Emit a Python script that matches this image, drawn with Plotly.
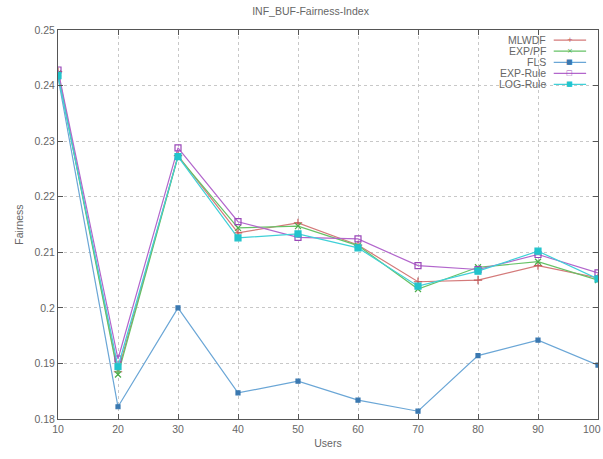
import plotly.graph_objects as go

users = [10, 20, 30, 40, 50, 60, 70, 80, 90, 100]
mlwdf = [0.2425, 0.1885, 0.2274, 0.2135, 0.2153, 0.2113, 0.2047, 0.2050, 0.2076, 0.2054]
exppf = [0.2422, 0.1880, 0.2272, 0.2144, 0.2147, 0.2112, 0.2034, 0.2073, 0.2083, 0.2050]
fls = [0.2415, 0.1822, 0.2000, 0.1847, 0.1868, 0.1834, 0.1814, 0.1914, 0.1942, 0.1897]
exprule = [0.2428, 0.1908, 0.2288, 0.2155, 0.2127, 0.2124, 0.2076, 0.2069, 0.2096, 0.2063]
logrule = [0.2418, 0.1894, 0.2272, 0.2126, 0.2133, 0.2108, 0.2039, 0.2066, 0.2102, 0.2052]

names = ["MLWDF", "EXP/PF", "FLS", "EXP-Rule", "LOG-Rule"]
series = [mlwdf, exppf, fls, exprule, logrule]
line_colors = ["#d47a7a", "#66c266", "#6aa6d6", "#b266cc", "#3fd0d8"]
marker_colors = ["#c25a5a", "#4cae4c", "#3a78b0", "#9a48b8", "#22c4cc"]
symbols = ["cross-thin-open", "x-thin-open", "square", "square-open", "square"]
glyphs = ["+", "×", "■", "□", "■"]
sizes = [6, 6, 4, 6, 6]

fig = go.Figure()
for n, s, lc, mc, sym, sz in zip(names, series, line_colors, marker_colors, symbols, sizes):
    fig.add_trace(go.Scatter(
        x=users, y=s, name=n, mode="lines+markers",
        line=dict(color=lc, width=1.2),
        marker=dict(symbol=sym, size=sz, color=mc, line=dict(color=mc, width=1.2)),
        showlegend=False,
    ))

txt_font = dict(family="Liberation Sans, Arial, sans-serif", size=10.5, color="#666666")

# custom gnuplot-style legend (text right, sample on the right)
y0 = 0.974
dy = 0.0285
for i, (n, lc, mc, g) in enumerate(zip(names, line_colors, marker_colors, glyphs)):
    yy = y0 - i * dy
    fig.add_annotation(x=0.908, y=yy, xref="paper", yref="paper", text=n,
                       showarrow=False, xanchor="right", yanchor="middle", font=txt_font)
    fig.add_shape(type="line", xref="paper", yref="paper", x0=0.918, x1=0.978,
                  y0=yy, y1=yy, line=dict(color=lc, width=1.2))
    fig.add_annotation(x=0.948, y=yy, xref="paper", yref="paper", text=g,
                       showarrow=False, xanchor="center", yanchor="middle",
                       font=dict(family="DejaVu Sans", size=7, color=mc))

# last x tick label, shifted inward so it stays on the page (as in the reference)
fig.add_annotation(x=users[-1], y=0, xref="x", yref="paper", text=str(users[-1]),
                   showarrow=False, xanchor="right", yanchor="top", xshift=5, yshift=-2,
                   font=txt_font)

axis_common = dict(
    showline=True, linecolor="#555555", linewidth=1, mirror="ticks",
    ticks="inside", ticklen=5, tickcolor="#555555",
    showgrid=True, gridcolor="#c8c8c8", griddash="dot", gridwidth=1,
    zeroline=False,
    tickfont=txt_font,
)

fig.update_layout(
    width=603, height=459,
    margin=dict(l=58, r=5, t=30, b=40),
    paper_bgcolor="white", plot_bgcolor="white",
    title=dict(text="INF_BUF-Fairness-Index", x=0.515, xanchor="center", y=0.975, yanchor="middle",
               font=txt_font),
    xaxis=dict(range=[10, 100], tickvals=users[:-1], title=dict(text="Users", standoff=6, font=txt_font),
               **axis_common),
    yaxis=dict(range=[0.18, 0.25], dtick=0.01, tickformat="~g",
               title=dict(text="Fairness", standoff=8, font=txt_font), **axis_common),
)

fig.write_html("out.html")
